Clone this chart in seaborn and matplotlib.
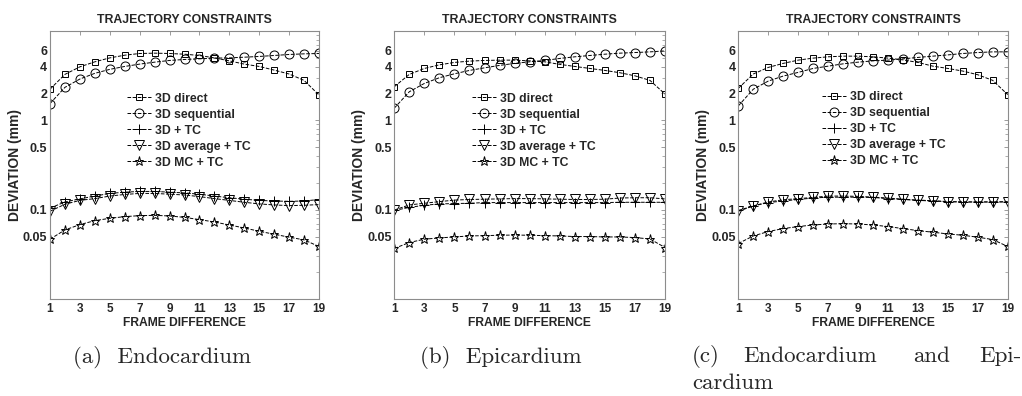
import numpy as np
import pandas as pd
import matplotlib
matplotlib.use("Agg")
import matplotlib.pyplot as plt
import matplotlib.ticker as mticker
import seaborn as sns

frames = list(range(1, 20))
methods = ["3D direct", "3D sequential", "3D + TC", "3D average + TC", "3D MC + TC"]

# (a) Endocardium
endo_direct = [2.23, 3.27, 3.97, 4.52, 5.0, 5.36, 5.6, 5.65, 5.6, 5.5, 5.32, 5.0, 4.63, 4.26, 4.01, 3.65, 3.30, 2.80, 1.92]
endo_seq = [1.54, 2.34, 2.90, 3.36, 3.72, 4.01, 4.26, 4.48, 4.68, 4.80, 4.88, 4.97, 5.0, 5.09, 5.19, 5.32, 5.46, 5.55, 5.6]
endo_tc = [0.104, 0.122, 0.132, 0.142, 0.152, 0.157, 0.160, 0.160, 0.157, 0.154, 0.149, 0.142, 0.136, 0.131, 0.127, 0.125, 0.124, 0.125, 0.130]
endo_avg = [0.096, 0.115, 0.127, 0.133, 0.142, 0.148, 0.152, 0.152, 0.149, 0.146, 0.140, 0.133, 0.127, 0.121, 0.116, 0.113, 0.111, 0.112, 0.114]
endo_mc = [0.0467, 0.0593, 0.068, 0.0754, 0.080, 0.0836, 0.0857, 0.0864, 0.085, 0.082, 0.0774, 0.0728, 0.0674, 0.0624, 0.0573, 0.0531, 0.0492, 0.0459, 0.0387]

# (b) Epicardium
epi_direct = [2.38, 3.27, 3.81, 4.18, 4.45, 4.6, 4.68, 4.72, 4.72, 4.63, 4.52, 4.23, 4.01, 3.81, 3.62, 3.41, 3.15, 2.80, 1.97]
epi_seq = [1.37, 2.09, 2.59, 3.0, 3.32, 3.62, 3.87, 4.12, 4.34, 4.52, 4.68, 4.93, 5.14, 5.32, 5.5, 5.65, 5.74, 5.84, 5.99]
epi_tc = [0.098, 0.106, 0.112, 0.116, 0.117, 0.118, 0.120, 0.120, 0.120, 0.120, 0.120, 0.120, 0.120, 0.120, 0.120, 0.121, 0.121, 0.121, 0.121]
epi_avg = [0.099, 0.113, 0.118, 0.123, 0.128, 0.130, 0.131, 0.132, 0.133, 0.133, 0.132, 0.131, 0.130, 0.130, 0.131, 0.135, 0.136, 0.136, 0.132]
epi_mc = [0.0368, 0.0429, 0.0467, 0.0483, 0.0495, 0.0508, 0.0512, 0.0517, 0.052, 0.0517, 0.0512, 0.0508, 0.050, 0.050, 0.0495, 0.0495, 0.0487, 0.047, 0.0377]

# (c) Endocardium and Epicardium
both_direct = [2.28, 3.30, 3.91, 4.34, 4.72, 4.97, 5.14, 5.23, 5.23, 5.14, 4.97, 4.75, 4.45, 4.04, 3.81, 3.56, 3.24, 2.80, 1.94]
both_seq = [1.45, 2.23, 2.75, 3.13, 3.44, 3.81, 4.04, 4.29, 4.48, 4.63, 4.72, 4.88, 5.06, 5.23, 5.4, 5.6, 5.74, 5.84, 5.84]
both_tc = [0.098, 0.110, 0.120, 0.125, 0.130, 0.135, 0.138, 0.138, 0.138, 0.137, 0.133, 0.130, 0.127, 0.125, 0.123, 0.122, 0.122, 0.122, 0.123]
both_avg = [0.096, 0.110, 0.122, 0.129, 0.133, 0.137, 0.142, 0.142, 0.141, 0.138, 0.135, 0.131, 0.128, 0.126, 0.123, 0.122, 0.122, 0.122, 0.122]
both_mc = [0.0418, 0.0508, 0.0569, 0.0614, 0.0647, 0.0674, 0.0691, 0.0697, 0.0691, 0.0674, 0.0647, 0.0614, 0.0583, 0.0559, 0.0535, 0.0517, 0.0492, 0.0463, 0.0387]

panels = [
    [endo_direct, endo_seq, endo_tc, endo_avg, endo_mc],
    [epi_direct, epi_seq, epi_tc, epi_avg, epi_mc],
    [both_direct, both_seq, both_tc, both_avg, both_mc],
]
ytick_vals = [0.05, 0.1, 0.5, 1, 2, 4, 6]
ytick_labels = ["0.05", "0.1", "0.5", "1", "2", "4", "6"]
xtick_vals = list(range(1, 20, 2))

markers = ["s", "o", "+", "v", "*"]
msizes = [5, 6.5, 7, 6.5, 6.5]

sns.set_style("white")
plt.rcParams["font.family"] = ["Liberation Sans", "DejaVu Sans"]
plt.rcParams["font.weight"] = "bold"

fig = plt.figure(figsize=(10.22, 3.96), dpi=100)
W, H = 1022, 396
boxes = [(50, 269), (394.3, 270.7), (738.3, 269.4)]
legend_x = [0.286, 0.286, 0.31]
legend_y = [0.77, 0.77, 0.776]
grey = "0.55"

for i, (series, (left, width)) in enumerate(zip(panels, boxes)):
    ax = fig.add_axes([left / W, (H - 299) / H, width / W, 268 / H])
    for name, vals, m, ms in zip(methods, series, markers, msizes):
        sns.lineplot(x=frames, y=vals, ax=ax, color="k", marker=m, markersize=ms,
                     mfc="none", mec="k", mew=0.7, linestyle="--", lw=0.7,
                     dashes=(4, 2), label=name)
    ax.set_yscale("log")
    ax.set_ylim(0.01, 10)
    ax.set_xlim(1, 19)
    ax.set_xticks(xtick_vals)
    ax.set_xticklabels([str(v) for v in xtick_vals], fontsize=8.5, fontweight="bold")
    ax.yaxis.set_major_locator(mticker.FixedLocator(ytick_vals))
    ax.yaxis.set_major_formatter(mticker.FixedFormatter(ytick_labels))
    ax.yaxis.set_minor_locator(mticker.LogLocator(base=10, subs=np.arange(2, 10)))
    ax.yaxis.set_minor_formatter(mticker.NullFormatter())
    for lab in ax.get_yticklabels():
        lab.set_fontsize(9)
        lab.set_fontweight("bold")
    ax.tick_params(which="both", direction="in", top=True, right=True, color=grey)
    ax.tick_params(axis="y", pad=2)
    ax.tick_params(axis="x", pad=3)
    ax.tick_params(which="major", length=3, width=0.6)
    ax.tick_params(which="minor", length=2, width=0.5)
    for sp in ax.spines.values():
        sp.set_color(grey)
        sp.set_linewidth(0.8)
    ax.set_title("TRAJECTORY CONSTRAINTS", fontsize=8.8, fontweight="bold", pad=6)
    ax.set_xlabel("FRAME DIFFERENCE", fontsize=8.7, fontweight="bold", labelpad=1.5)
    ax.set_ylabel("DEVIATION (mm)", fontsize=10, fontweight="bold", labelpad=0.5)
    ax.legend(loc="upper left", bbox_to_anchor=(legend_x[i], legend_y[i]), frameon=False,
              fontsize=8.8, handlelength=2.0, handletextpad=0.3, labelspacing=0.33,
              borderpad=0, borderaxespad=0, numpoints=1)

cap = dict(fontfamily="cmr10", fontsize=16.5, va="baseline")
fig.text(73 / W, 1 - 363 / H, "(a)  Endocardium", ha="left", **cap)
fig.text(420 / W, 1 - 363 / H, "(b)  Epicardium", ha="left", **cap)
fig.text(692 / W, 1 - 362 / H, "(c)", ha="left", **cap)
fig.text(743 / W, 1 - 362 / H, "Endocardium", ha="left", **cap)
fig.text(913 / W, 1 - 362 / H, "and", ha="left", **cap)
fig.text(1021 / W, 1 - 362 / H, "Epi-", ha="right", **cap)
fig.text(692 / W, 1 - 389 / H, "cardium", ha="left", **cap)

fig.savefig("out.png", dpi=100)
